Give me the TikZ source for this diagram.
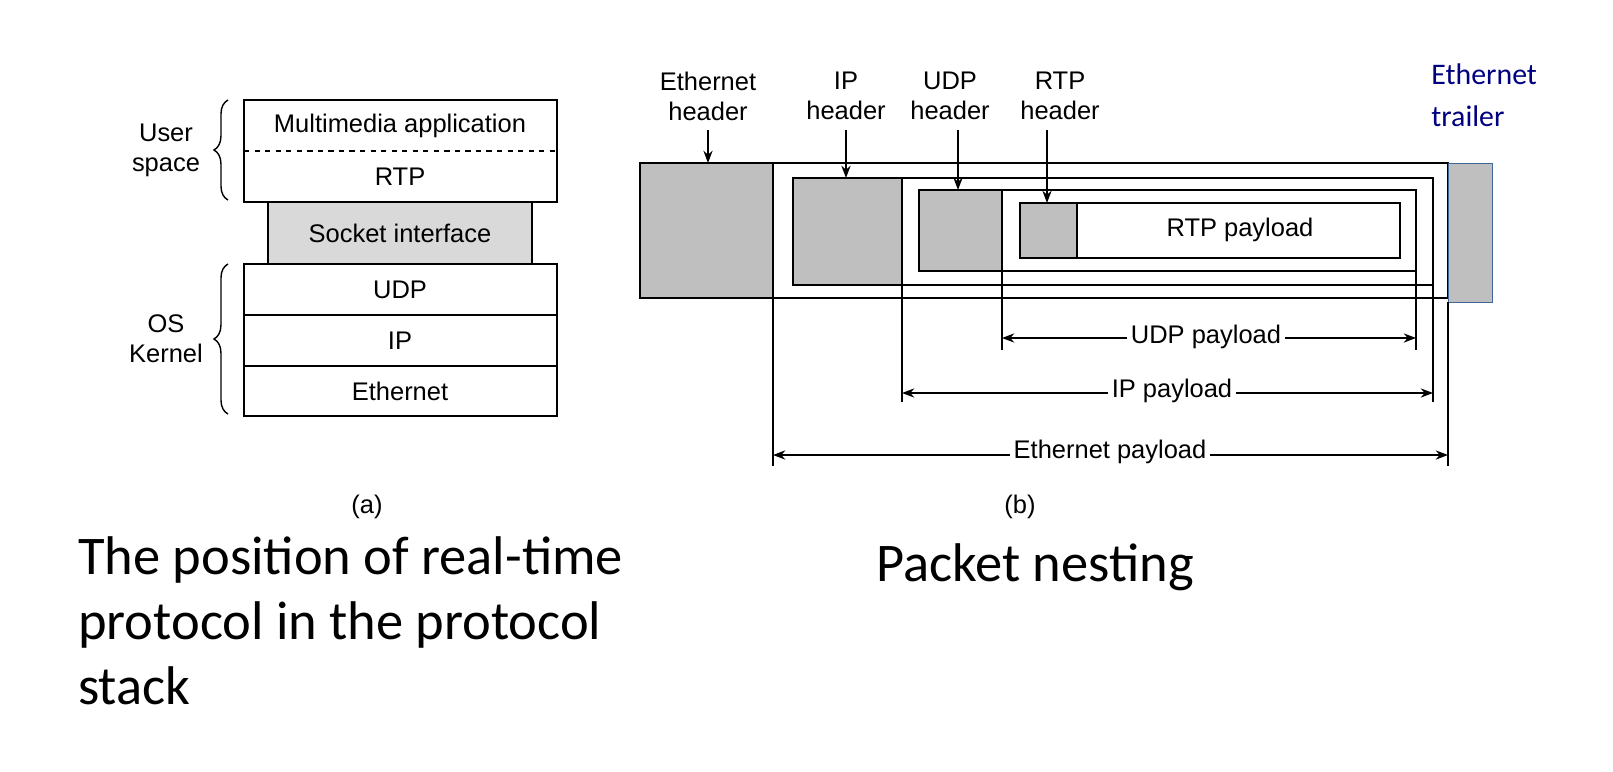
\documentclass[tikz,border=0pt]{standalone}
\usepackage{fontspec}
\setmainfont{Liberation Sans}
\newfontfamily\calfont{Carlito}
\usetikzlibrary{decorations.pathreplacing,arrows.meta}
\begin{document}
\begin{tikzpicture}[x=0.02cm,y=-0.02cm,
  lbl/.style={font=\fontsize{14.5}{17}\selectfont,align=center},
  hd/.style={draw,fill=black!25,thick},
  fr/.style={draw,thick},
  dim/.style={thick,{Stealth[length=7pt]}-{Stealth[length=7pt]}},
  captxt/.style={font=\calfont\fontsize{31}{37}\selectfont,align=left}]
\useasboundingbox (0,0) rectangle (1613,771);
% (a)
\draw[thick] (244,100) rectangle (557,202);
\draw[thick,dashed] (244,151) -- (557,151);
\node[lbl] (mm) at (400,126) {Multimedia application};
\node[lbl] (rtp) at (400,177) {RTP};
\draw[thick,fill=black!15] (268,202) rectangle (532,264);
\node[lbl] (sock) at (400,233) {Socket interface};
\draw[thick] (244,264) rectangle (557,416);
\draw[thick] (244,315) -- (557,315); \draw[thick] (244,366) -- (557,366);
\node[lbl] (udp) at (400,290) {UDP};
\node[lbl] (ip) at (400,341) {IP};
\node[lbl] (eth) at (400,391) {Ethernet};
\draw[thick,decorate,decoration={brace,amplitude=8pt}] (228,200) -- (228,100);
\draw[thick,decorate,decoration={brace,amplitude=8pt}] (228,414) -- (228,264);
\node[lbl] (us) at (166,150) {User\\space};
\node[lbl] (os) at (166,339) {OS\\Kernel};
\node[lbl] (a) at (367,507) {(a)};
\node[captxt,anchor=north west] (c1) at (72,530) {The position of real-time\\protocol in the protocol\\stack};
% (b)
\draw[fr] (640,163) rectangle (1448,298);
\draw[hd] (640,163) rectangle (773,298);
\draw[fr] (793,178) rectangle (1433,285);
\draw[hd] (793,178) rectangle (902,285);
\draw[fr] (919,190) rectangle (1416,271);
\draw[hd] (919,190) rectangle (1002,271);
\draw[fr] (1020,203) rectangle (1400,258);
\draw[hd] (1020,203) rectangle (1077,258);
\node[lbl] (rp) at (1240,230) {RTP payload};
\draw[fill=black!25,draw=cyan!50!blue!70!black] (1448,163) rectangle (1492,302);
\draw[thick] (773,298) -- (773,466); \draw[thick] (1448,302) -- (1448,466);
\draw[thick] (902,285) -- (902,402); \draw[thick] (1433,285) -- (1433,402);
\draw[thick] (1002,271) -- (1002,350); \draw[thick] (1416,271) -- (1416,350);
\coordinate (u1) at (1002,338); \coordinate (u2) at (1416,338);
\coordinate (i1) at (902,393); \coordinate (i2) at (1433,393);
\coordinate (e1) at (773,455); \coordinate (e2) at (1448,455);
\draw[dim] (u1) -- (u2); \draw[dim] (i1) -- (i2); \draw[dim] (e1) -- (e2);
\node[lbl,fill=white,inner sep=2pt] (ul) at (1206,337) {UDP payload};
\node[lbl,fill=white,inner sep=2pt] (il) at (1172,391) {IP payload};
\node[lbl,fill=white,inner sep=2pt] (el) at (1110,452) {Ethernet payload};
\node[lbl] (eh) at (708,96) {Ethernet\\header};
\node[lbl] (ih) at (846,96) {IP\\header};
\node[lbl] (uh) at (950,96) {UDP\\header};
\node[lbl] (rh) at (1060,96) {RTP\\header};
\coordinate (t1) at (708,163); \coordinate (t2) at (846,178);
\coordinate (t3) at (958,190); \coordinate (t4) at (1047,203);
\draw[thick,-{Stealth[length=7pt]}] (708,130) -- (t1);
\draw[thick,-{Stealth[length=7pt]}] (846,130) -- (t2);
\draw[thick,-{Stealth[length=7pt]}] (958,130) -- (t3);
\draw[thick,-{Stealth[length=7pt]}] (1047,130) -- (t4);
\node[font=\calfont\fontsize{17}{24}\selectfont,text=blue!50!black,align=left,anchor=north west,inner sep=0pt] (et) at (1431,63) {Ethernet\\trailer};
\node[lbl] (b) at (1020,507) {(b)};
\node[captxt] (c2) at (1035,567) {Packet nesting};
\end{tikzpicture}
\end{document}
